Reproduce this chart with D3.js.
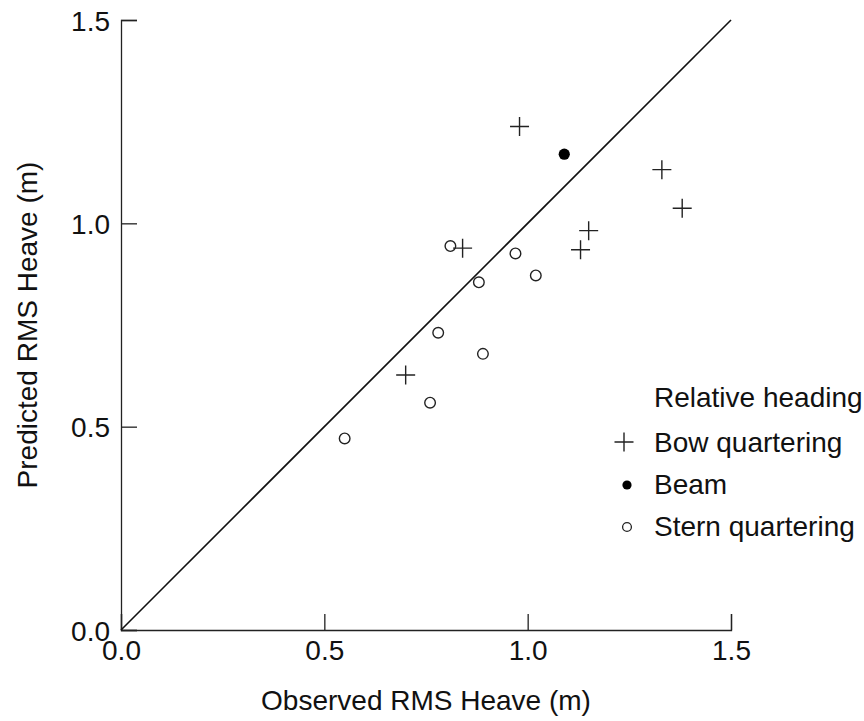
<!DOCTYPE html>
<html>
<head>
<meta charset="utf-8">
<script src="https://cdn.jsdelivr.net/npm/d3@7"></script>
<style>
  body { margin: 0; background: #fff; }
  text { font-family: "Liberation Sans", Arial, sans-serif; fill: #111; }
</style>
</head>
<body>
<script>
// observed vs predicted RMS heave (m)
const bowObserved = [0.98, 1.33, 1.38, 1.15, 1.13, 0.84, 0.70]
const bowPredicted = [1.238, 1.132, 1.037, 0.982, 0.935, 0.939, 0.627]
const beamObserved = [1.09]
const beamPredicted = [1.170]
const sternObserved = [0.81, 0.97, 1.02, 0.88, 0.78, 0.89, 0.76, 0.55]
const sternPredicted = [0.944, 0.926, 0.872, 0.855, 0.731, 0.679, 0.559, 0.471]
const tickValues = [0, 0.5, 1.0, 1.5]
const legendTitle = 'Relative heading'
const legendLabels = ['Bow quartering', 'Beam', 'Stern quartering']

const width = 864, height = 721
const plotLeft = 121, plotRight = 731, plotTop = 20, plotBottom = 630
const fontSize = '28px'

var svg = d3.select('body')
    .append('svg')
    .attr('width', width)
    .attr('height', height)

var x = d3.scaleLinear().domain([0, 1.5]).range([plotLeft, plotRight])
var y = d3.scaleLinear().domain([0, 1.5]).range([plotBottom, plotTop])

// axes, ticks point inward
var xAxis = svg.append('g')
    .attr('transform', 'translate(0,' + plotBottom + ')')
    .call(d3.axisBottom(x).tickValues(tickValues).tickFormat(d3.format('.1f')).tickSize(-16).tickPadding(6))
var yAxis = svg.append('g')
    .attr('transform', 'translate(' + plotLeft + ',0)')
    .call(d3.axisLeft(y).tickValues(tickValues).tickFormat(d3.format('.1f')).tickSize(-16).tickPadding(11))

;[xAxis, yAxis].forEach(function(ax) {
    ax.select('.domain').attr('stroke', '#222').attr('stroke-width', 1.3)
    ax.selectAll('.tick line').attr('stroke', '#222').attr('stroke-width', 1.3)
    ax.selectAll('.tick text')
        .style('font-family', '"Liberation Sans", Arial, sans-serif')
        .style('font-size', fontSize)
        .attr('fill', '#111')
})
xAxis.selectAll('.tick text').attr('dy', '0.84em')
yAxis.selectAll('.tick text').attr('dy', '0.36em')

// line of equality
svg.append('line')
    .attr('x1', x(0)).attr('y1', y(0))
    .attr('x2', x(1.5)).attr('y2', y(1.5))
    .attr('stroke', '#111')
    .attr('stroke-width', 1.6)

function plus(g, cx, cy, r) {
    g.append('path')
        .attr('d', 'M' + (cx - r) + ',' + cy + 'H' + (cx + r) + 'M' + cx + ',' + (cy - r) + 'V' + (cy + r))
        .attr('stroke', '#222')
        .attr('stroke-width', 1.4)
        .attr('fill', 'none')
}

var pts = svg.append('g')
bowObserved.forEach(function(d, i) {
    plus(pts, x(d), y(bowPredicted[i]), 9.5)
})
beamObserved.forEach(function(d, i) {
    pts.append('circle')
        .attr('cx', x(d)).attr('cy', y(beamPredicted[i]))
        .attr('r', 5.6)
        .attr('fill', '#000')
})
sternObserved.forEach(function(d, i) {
    pts.append('circle')
        .attr('cx', x(d)).attr('cy', y(sternPredicted[i]))
        .attr('r', 5.3)
        .attr('fill', 'none')
        .attr('stroke', '#222')
        .attr('stroke-width', 1.4)
})

// axis titles
svg.append('text')
    .text('Observed RMS Heave (m)')
    .attr('x', (plotLeft + plotRight) / 2)
    .attr('y', 710)
    .attr('text-anchor', 'middle')
    .style('font-size', fontSize)

svg.append('text')
    .text('Predicted RMS Heave (m)')
    .attr('transform', 'translate(37,' + (plotTop + plotBottom) / 2 + ') rotate(-90)')
    .attr('text-anchor', 'middle')
    .style('font-size', fontSize)

// legend
var legend = svg.append('g')
legend.append('text')
    .text(legendTitle)
    .attr('x', 654).attr('y', 407)
    .style('font-size', fontSize)

legendLabels.forEach(function(label, i) {
    var cy = 442 + i * 42
    legend.append('text')
        .text(label)
        .attr('x', 654).attr('y', cy + 10)
        .style('font-size', fontSize)
    if (i === 0) plus(legend, 624, cy, 9.5)
    if (i === 1) legend.append('circle').attr('cx', 627).attr('cy', cy + 1).attr('r', 4.6).attr('fill', '#000')
    if (i === 2) legend.append('circle').attr('cx', 627).attr('cy', cy + 1).attr('r', 4.4)
        .attr('fill', 'none').attr('stroke', '#222').attr('stroke-width', 1.3)
})
</script>
</body>
</html>
